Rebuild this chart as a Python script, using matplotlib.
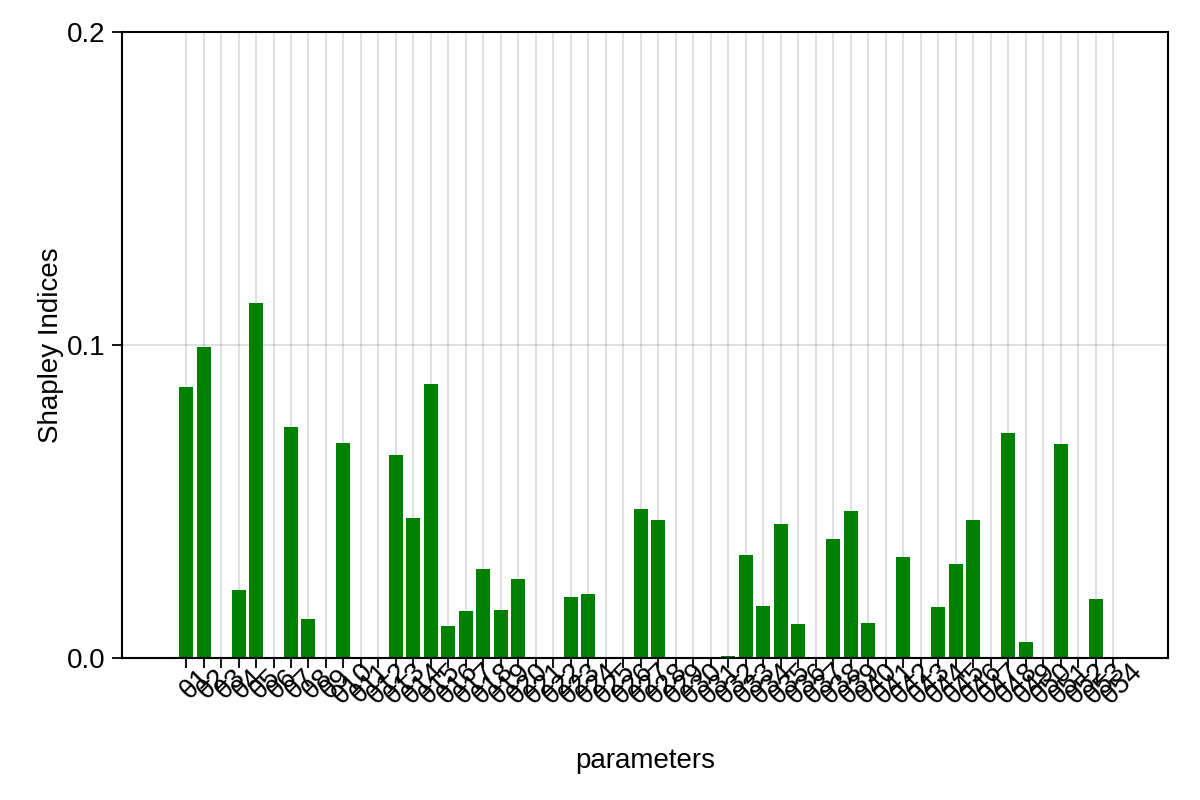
import matplotlib
matplotlib.use('Agg')
import matplotlib.pyplot as plt
import numpy as np

plt.rcParams['font.family'] = ['Liberation Sans', 'DejaVu Sans']

params = ['θ' + str(i) for i in range(1, 55)]
shapley = [0.0866, 0.0994, 0.0, 0.0217, 0.1134, 0.0, 0.0738, 0.0125, 0.0, 0.0687,
           0.0, 0.0, 0.0649, 0.0447, 0.0875, 0.0102, 0.0150, 0.0284, 0.0153, 0.0252,
           0.0, 0.0, 0.0195, 0.0204, 0.0, 0.0, 0.0476, 0.0441, 0.0, 0.0,
           0.0, 0.0006, 0.0329, 0.0166, 0.0428, 0.0109, 0.0, 0.0380, 0.0470, 0.0112,
           0.0, 0.0323, 0.0, 0.0163, 0.0300, 0.0441, 0.0, 0.0719, 0.0051, 0.0,
           0.0684, 0.0004, 0.0188, 0.0]
yticks = [0.0, 0.1, 0.2]

fig = plt.figure(figsize=(12, 8), dpi=100)
ax = fig.add_axes([0.1017, 0.1775, 0.8716, 0.7825])

x = np.arange(1, len(params) + 1)
ax.bar(x, shapley, width=0.8, color='green', zorder=2)

ax.set_xlim(-2.66, 57.14)
ax.set_ylim(0, 0.2)
ax.set_xticks(x)
ax.set_xticklabels(params, rotation=45, rotation_mode='anchor', ha='center', va='top', fontsize=20)
ax.set_yticks(yticks)
ax.set_yticklabels(['%.1f' % v for v in yticks], fontsize=20)
ax.grid(True, color='black', alpha=0.12, linewidth=1.5, zorder=0)
ax.set_axisbelow(True)
ax.tick_params(direction='out', length=7, width=1.3, pad=5)
for s in ax.spines.values():
    s.set_linewidth(1.5)

ax.set_xlabel('parameters', fontsize=20, labelpad=28)
ax.set_ylabel('Shapley Indices', fontsize=20, labelpad=2)

plt.savefig('out.png', dpi=100)
